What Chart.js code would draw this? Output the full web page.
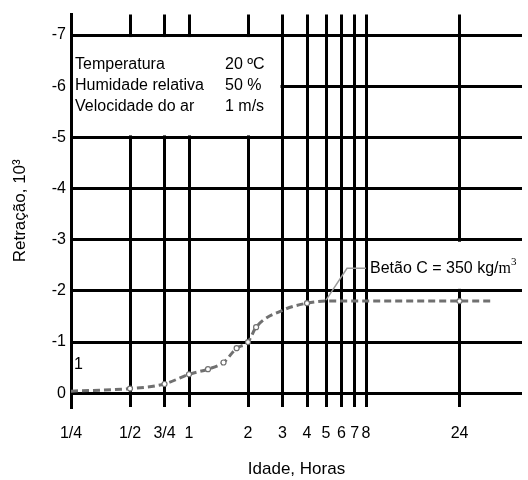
<!DOCTYPE html>
<html>
<head>
<meta charset="utf-8">
<script src="https://cdn.jsdelivr.net/npm/chart.js@4.4.1/dist/chart.umd.min.js"></script>
<style>
  html, body { margin: 0; padding: 0; background: #fff; }
  #wrap { width: 528px; height: 480px; }
</style>
</head>
<body>
<div id="wrap"><canvas id="myChart" width="528" height="480"></canvas></div>
<script>
// idade (horas) e retração (x 10^3)
var idade = [0.25, 0.5, 0.75, 1, 1.25, 1.5, 1.75, 2, 2.2, 3, 4, 5, 24, 36]
var retracao = [-0.04, -0.09, -0.18, -0.37, -0.47, -0.6, -0.88, -1.0, -1.29, -1.62, -1.76, -1.8, -1.8, -1.8]
var comMarcador = [0, 1, 1, 1, 1, 1, 1, 1, 1, 0, 1, 0, 1, 0]

var xTicks = [0.25, 0.5, 0.75, 1, 2, 3, 4, 5, 6, 7, 8, 24]
var xTickLabels = ['1/4', '1/2', '3/4', '1', '2', '3', '4', '5', '6', '7', '8', '24']
var yTicks = [-7, -6, -5, -4, -3, -2, -1, 0]

// linha de chamada da legenda do betão
var chamadaX = [5, 6.4, 8]
var chamadaY = [-1.82, -2.44, -2.44]

var condicoes = [
  ['Temperatura', '20 ºC'],
  ['Humidade relativa', '50 %'],
  ['Velocidade do ar', '1 m/s']
]

var FONT = '"Liberation Sans", Arial, sans-serif'

const notas = {
  id: 'notas',
  beforeDatasetsDraw(chart) {
    const ctx = chart.ctx
    const x = chart.scales.x
    const y = chart.scales.y
    ctx.save()
    ctx.fillStyle = '#fff'
    // caixa branca das condições de ensaio
    const x0 = x.getPixelForValue(0.25) + 2
    const x1 = x.getPixelForValue(3) - 2
    const y0 = y.getPixelForValue(-7) + 2
    const y1 = y.getPixelForValue(-5) - 2
    ctx.fillRect(x0, y0, x1 - x0, y1 - y0)
    // fundo branco da legenda do betão
    const bx0 = x.getPixelForValue(8) + 2
    const by0 = y.getPixelForValue(-3) + 2
    const by1 = y.getPixelForValue(-2) - 2
    ctx.fillRect(bx0, by0, chart.chartArea.right - bx0, by1 - by0)

    ctx.fillStyle = '#000'
    ctx.font = '16px ' + FONT
    ctx.textBaseline = 'middle'
    ctx.textAlign = 'left'
    for (let i = 0; i < condicoes.length; i++) {
      const ty = y0 + 28 + i * 21
      ctx.fillText(condicoes[i][0], x0 + 2, ty)
      ctx.fillText(condicoes[i][1], x0 + 152, ty)
    }
    ctx.restore()
  },
  afterDatasetsDraw(chart) {
    const ctx = chart.ctx
    const x = chart.scales.x
    const y = chart.scales.y
    ctx.save()
    ctx.fillStyle = '#000'
    ctx.textBaseline = 'middle'
    ctx.textAlign = 'left'
    // legenda do betão
    const bx = x.getPixelForValue(8) + 4
    const by = y.getPixelForValue(-2.44)
    ctx.font = '16px ' + FONT
    const t = 'Betão C = 350 kg/'
    ctx.fillText(t, bx, by)
    let w = ctx.measureText(t).width
    ctx.font = '16px "Liberation Serif", serif'
    ctx.fillText('m', bx + w, by)
    w += ctx.measureText('m').width
    ctx.font = '11px "Liberation Serif", serif'
    ctx.fillText('3', bx + w, by - 6)
    // "1" solto junto ao eixo
    ctx.font = '16px ' + FONT
    ctx.fillText('1', x.getPixelForValue(0.25) + 3, y.getPixelForValue(-0.55))
    ctx.restore()
  }
}

const ctx = document.getElementById('myChart').getContext('2d')
const myChart = new Chart(ctx, {
  type: 'line',
  data: {
    datasets: [{
      label: 'Betão C = 350 kg/m3',
      data: idade.map((v, i) => ({ x: v, y: retracao[i] })),
      borderColor: '#707070',
      borderWidth: 3,
      borderDash: [7, 4],
      cubicInterpolationMode: 'monotone',
      pointRadius: comMarcador.map(m => m ? 2.5 : 0),
      pointBorderColor: '#707070',
      pointBackgroundColor: '#fff',
      pointBorderWidth: 1.2,
      fill: false
    }, {
      label: 'chamada',
      data: chamadaX.map((v, i) => ({ x: v, y: chamadaY[i] })),
      borderColor: '#9a9a9a',
      borderWidth: 1.5,
      pointRadius: 0,
      tension: 0,
      fill: false
    }]
  },
  options: {
    responsive: false,
    animation: false,
    layout: { padding: { left: 0, right: 6, top: 13, bottom: 0 } },
    plugins: {
      legend: { display: false },
      tooltip: { enabled: false }
    },
    scales: {
      x: {
        type: 'logarithmic',
        min: 0.25,
        max: 50,
        afterBuildTicks: (scale) => { scale.ticks = xTicks.map(v => ({ value: v })) },
        afterFit: (scale) => { scale.height = 73 },
        ticks: {
          autoSkip: false,
          maxRotation: 0,
          padding: 17,
          color: '#000',
          font: { family: FONT, size: 16 },
          callback: (value, index) => xTickLabels[index]
        },
        grid: { color: '#000', lineWidth: 3, tickLength: 0, drawTicks: false },
        border: { display: false },
        title: {
          display: true,
          text: 'Idade, Horas',
          color: '#000',
          font: { family: FONT, size: 17 },
          padding: { top: 0, bottom: 0 }
        }
      },
      y: {
        type: 'linear',
        reverse: true,
        min: -7.4,
        max: 0.27,
        afterBuildTicks: (scale) => { scale.ticks = yTicks.map(v => ({ value: v })) },
        afterFit: (scale) => { scale.width = 71 },
        ticks: {
          padding: 5,
          color: '#000',
          font: { family: FONT, size: 16 },
          callback: (value) => String(value)
        },
        grid: { color: '#000', lineWidth: 3, tickLength: 0, drawTicks: false },
        border: { display: true, color: '#000', width: 3 },
        title: {
          display: true,
          text: 'Retração, 10³',
          color: '#000',
          font: { family: FONT, size: 17 },
          padding: { top: 10, bottom: 0 }
        }
      }
    }
  },
  plugins: [notas]
})
</script>
</body>
</html>
